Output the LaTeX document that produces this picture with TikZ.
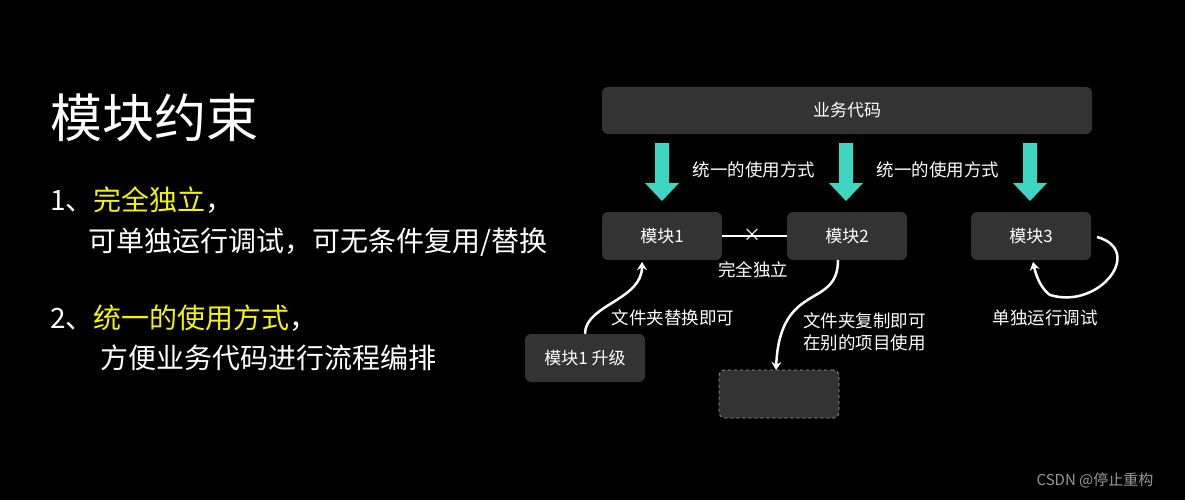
\documentclass[tikz,border=0pt]{standalone}
\usepackage{fontspec}
\setmainfont{Noto Sans CJK SC}
\usetikzlibrary{arrows.meta,shapes.arrows}
\definecolor{boxgray}{HTML}{333333}
\definecolor{teal1}{HTML}{3ED6C0}
\definecolor{yel}{HTML}{F5F500}
\tikzset{
 mbox/.style={fill=boxgray,rounded corners=6pt,minimum width=120pt,minimum height=48pt,text=white,font=\fontsize{17}{20}\selectfont,inner sep=0},
 lbl/.style={text=white,font=\fontsize{17.5}{22}\selectfont,inner sep=1pt},
 big/.style={text=white,font=\fontsize{28}{32}\selectfont,anchor=west,inner sep=0},
 wline/.style={white,line width=2.5pt,-{Stealth[length=8pt,width=10pt]}},
 tarrow/.style={single arrow,fill=teal1,draw=none,shape border rotate=270,minimum height=58pt,minimum width=34pt,single arrow head extend=10pt,inner sep=0,single arrow tip angle=90,text width=0pt,text height=14pt}
}
\begin{document}
\begin{tikzpicture}[x=1pt,y=-1pt]
\useasboundingbox[fill=black] (0,0) rectangle (1185,500);
\node[text=white,font=\fontsize{52}{58}\selectfont,anchor=west,inner sep=0] (title) at (50,118) {模块约束};
\node[big] (t1) at (50,200) {1、\textcolor{yel}{完全独立}，};
\node[big] (t2) at (88,242) {可单独运行调试，可无条件复用/替换};
\node[big] (t3) at (50,318) {2、\textcolor{yel}{统一的使用方式}，};
\node[big] (t4) at (100,358) {方便业务代码进行流程编排};

\node[mbox,minimum width=490pt,minimum height=47pt] (biz) at (847,110.5) {业务代码};
\fill[teal1] (655,143) rectangle (669,183) -- (679,183) -- (662,201) -- (645,183) -- (655,183) -- cycle;
\fill[teal1] (839,143) rectangle (853,183) -- (863,183) -- (846,201) -- (829,183) -- (839,183) -- cycle;
\fill[teal1] (1023,143) rectangle (1037,183) -- (1047,183) -- (1030,201) -- (1013,183) -- (1023,183) -- cycle;
\node[lbl] (u1) at (754,170) {统一的使用方式};
\node[lbl] (u2) at (938,170) {统一的使用方式};

\node[mbox] (m1) at (662,236) {模块1};
\node[mbox] (m2) at (847,236) {模块2};
\node[mbox] (m3) at (1031,236) {模块3};
\draw[white,line width=2.5pt] (m1.east) -- (m2.east-|m2.west);
\node[text=white,font=\fontsize{18}{18}\selectfont,inner sep=0] (x) at (752,235) {×};
\node[lbl] (ind) at (753,270) {完全独立};

\node[mbox] (up) at (585,358) {模块1 升级};
\node[mbox,draw=gray!80,dashed,thick] (cp) at (779,394) {};

\coordinate (m1b) at (642,262);
\draw[wline] (up.north) .. controls (585,305) and (642,300) .. (m1b);
\coordinate (m2b) at (838,260);
\coordinate (cpt) at (776,370);
\draw[wline] (m2b) .. controls (838,310) and (780,280) .. (cpt);
\coordinate (m3e) at (1097,237);
\coordinate (m3b) at (1033,262);
\draw[wline] (m3e) .. controls (1145,250) and (1100,310) .. (1050,295) .. controls (1043,290) and (1037,280) .. (m3b);

\node[lbl] (l1) at (673,318) {文件夹替换即可};
\node[lbl,anchor=west,align=left] (l2) at (802,332) {文件夹复制即可\\在别的项目使用};
\node[lbl] (l3) at (1045,318) {单独运行调试};
\node[text=gray!80,font=\fontsize{15}{17}\selectfont] (csdn) at (1095,480) {CSDN @停止重构};
\end{tikzpicture}
\end{document}
